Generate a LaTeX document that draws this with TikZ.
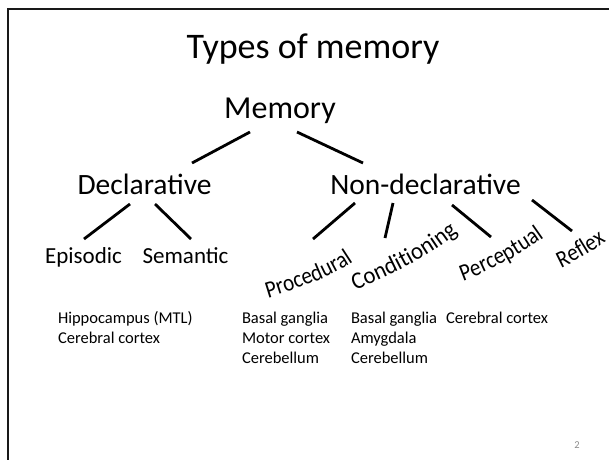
\documentclass[tikz,border=0pt]{standalone}
\usepackage{fontspec}
\setmainfont{Carlito}
\newfontfamily\arcfont[FakeStretch=0.88]{Carlito}
\newfontfamily\arcfontb[FakeStretch=0.95]{Carlito}
\usetikzlibrary{decorations.text}
\begin{document}
\begin{tikzpicture}[x=1pt,y=-1pt,
  lbl/.style={anchor=base, inner sep=0pt, outer sep=0pt},
  lefttext/.style={anchor=base west, inner sep=0pt, outer sep=0pt, font=\fontsize{16.5}{20}\selectfont},
  branch/.style={line width=2.8pt},
  frameline/.style={line width=2.4pt, line join=miter, color=black!90},
  arcword/.style={decorate, decoration={text along path, text align={left}, text={#1}}}
]
\useasboundingbox (0,0) rectangle (609,459);
% slide frame
\draw[frameline] (8,470) -- (8,8.7) -- (620,8.7);

% title and tree labels
\node[lbl, font=\fontsize{36}{43}\selectfont] (title) at (313,58) {Types of memory};
\node[lbl, font=\fontsize{32}{38}\selectfont] (mem) at (280,118) {Memory};
\node[lbl, font=\fontsize{29.5}{35}\selectfont] (decl) at (144.5,194) {Declarative};
\node[lbl, font=\fontsize{29.5}{35}\selectfont] (nondecl) at (425.5,194) {Non-declarative};
\node[lbl, font=\fontsize{23}{28}\selectfont] (epi) at (83.5,263) {Episodic};
\node[lbl, font=\fontsize{23}{28}\selectfont] (sem) at (185.5,263) {Semantic};

% connector end points
\coordinate (memL) at (250,132);
\coordinate (declT) at (192,163);
\coordinate (memR) at (297,132);
\coordinate (nondeclT) at (363,163);
\coordinate (declL) at (130,204);
\coordinate (epiT) at (84,239);
\coordinate (declR) at (155,204);
\coordinate (semT) at (191,239);
\coordinate (nd1) at (355,203);
\coordinate (procT) at (313,239);
\coordinate (nd2) at (393,203);
\coordinate (condT) at (385,238);
\coordinate (nd3) at (452,205);
\coordinate (percT) at (491,237);
\coordinate (nd4) at (532,200);
\coordinate (reflT) at (572,231);

\draw[branch] (memL) -- (declT);
\draw[branch] (memR) -- (nondeclT);
\draw[branch] (declL) -- (epiT);
\draw[branch] (declR) -- (semT);
\draw[branch] (nd1) -- (procT);
\draw[branch] (nd2) -- (condT);
\draw[branch] (nd3) -- (percT);
\draw[branch] (nd4) -- (reflT);

% curved words
\begin{scope}
\fontsize{24}{28}\arcfont
\path[arcword={Procedural}]
  (268,298) .. controls (296.7,289.2) and (325.8,279.3) .. (351,263) -- (367.8,252.1);
\path[arcword={Perceptual}]
  (463,281) .. controls (491.2,270.7) and (517.4,256.2) .. (542,239) -- (558.4,227.5);
\path[arcword={Reflex}]
  (561,268) .. controls (576.4,260.8) and (591.2,252) .. (605,242) -- (621.2,230.2);
\end{scope}
\begin{scope}
\fontsize{24}{28}\arcfontb
\path[arcword={Conditioning}]
  (355,290) .. controls (392.1,275) and (429.4,256.7) .. (460,231) -- (475.3,218.1);
\end{scope}

% brain regions
\node[lefttext] (h1) at (58,323) {Hippocampus (MTL)};
\node[lefttext] (h2) at (58,343) {Cerebral cortex};
\node[lefttext] (p1) at (242,323) {Basal ganglia};
\node[lefttext] (p2) at (242,343) {Motor cortex};
\node[lefttext] (p3) at (242,363) {Cerebellum};
\node[lefttext] (c1) at (351,323) {Basal ganglia};
\node[lefttext] (c2) at (351,343) {Amygdala};
\node[lefttext] (c3) at (351,363) {Cerebellum};
\node[lefttext] (q1) at (446,323) {Cerebral cortex};

% page number
\node[lbl, font=\fontsize{10.5}{12}\selectfont, text=black!45] (pg) at (577,448.5) {2};
\end{tikzpicture}
\end{document}
